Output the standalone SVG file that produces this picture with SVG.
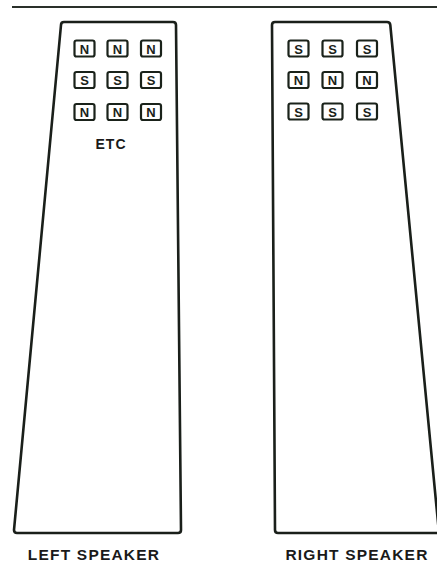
<svg xmlns="http://www.w3.org/2000/svg" width="437" height="568" viewBox="0 0 437 568">
<style>
.outline{fill:#fff;stroke:#1a1f1a;stroke-width:2.6;stroke-linejoin:round}
.mag rect{fill:#fff;stroke:#1a221a;stroke-width:2.2}
.mag text{font-family:"Liberation Sans",Arial,sans-serif;font-weight:bold;font-size:13px;fill:#1a221a;text-anchor:middle}
.lbl{font-family:"Liberation Sans",Arial,sans-serif;font-weight:bold;font-size:15.5px;fill:#1a1a1a;text-anchor:middle;letter-spacing:1.2px}
</style>
<rect width="437" height="568" fill="#fff"/>
<line x1="12" y1="7" x2="437" y2="7" stroke="#2a302a" stroke-width="2"/>
<g id="left-speaker">
<path class="outline" d="M64 22 L173 22 Q176 22 176 25 L181 530 Q181 533 178 533 L17 533 Q14 533 14 530 L61 25 Q61 22 64 22 Z"/>
<g class="mag">
<rect x="74.5" y="40.5" width="20" height="16" rx="2"/><text x="84.5" y="53.5">N</text>
<rect x="107.5" y="40.5" width="20" height="16" rx="2"/><text x="117.5" y="53.5">N</text>
<rect x="141" y="40.5" width="20" height="16" rx="2"/><text x="151" y="53.5">N</text>
<rect x="74.5" y="72" width="20" height="16" rx="2"/><text x="84.5" y="85">S</text>
<rect x="107.5" y="72" width="20" height="16" rx="2"/><text x="117.5" y="85">S</text>
<rect x="141" y="72" width="20" height="16" rx="2"/><text x="151" y="85">S</text>
<rect x="74.5" y="104" width="20" height="16" rx="2"/><text x="84.5" y="117">N</text>
<rect x="107.5" y="104" width="20" height="16" rx="2"/><text x="117.5" y="117">N</text>
<rect x="141" y="104" width="20" height="16" rx="2"/><text x="151" y="117">N</text>
</g>
<text class="lbl" x="111" y="149" style="font-size:14px;letter-spacing:1px">ETC</text>
</g>
<g id="right-speaker">
<path class="outline" d="M275 22 L387 22 Q390 22 390.3 25 L439 533 L278 533 Q275 533 275 530 L272 25 Q272 22 275 22 Z"/>
<g class="mag">
<rect x="288.5" y="40.5" width="20" height="16" rx="2"/><text x="298.5" y="53.5">S</text>
<rect x="322.5" y="40.5" width="20" height="16" rx="2"/><text x="332.5" y="53.5">S</text>
<rect x="357" y="40.5" width="20" height="16" rx="2"/><text x="367" y="53.5">S</text>
<rect x="288.5" y="72" width="20" height="16" rx="2"/><text x="298.5" y="85">N</text>
<rect x="322.5" y="72" width="20" height="16" rx="2"/><text x="332.5" y="85">N</text>
<rect x="357" y="72" width="20" height="16" rx="2"/><text x="367" y="85">N</text>
<rect x="288.5" y="103.5" width="20" height="16" rx="2"/><text x="298.5" y="116.5">S</text>
<rect x="322.5" y="103.5" width="20" height="16" rx="2"/><text x="332.5" y="116.5">S</text>
<rect x="357" y="103.5" width="20" height="16" rx="2"/><text x="367" y="116.5">S</text>
</g>
</g>
<text class="lbl" x="94" y="560">LEFT SPEAKER</text>
<text class="lbl" x="357" y="560">RIGHT SPEAKER</text>
</svg>
